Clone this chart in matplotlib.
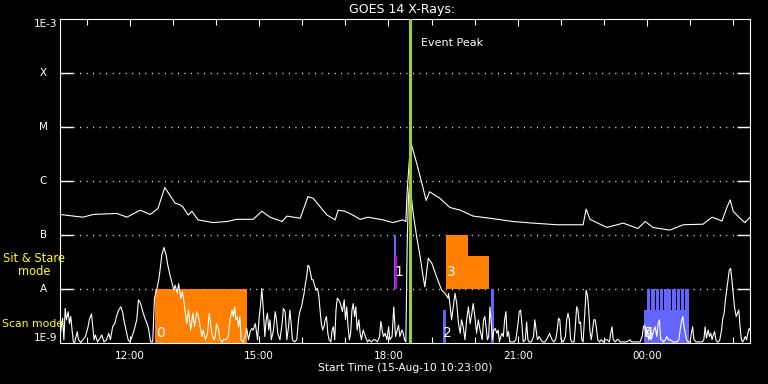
import numpy as np
import matplotlib.pyplot as plt
import matplotlib.transforms as mtransforms
from matplotlib.ticker import NullLocator

# time axis: hours after the start time 15-Aug-10 10:23:00
# flux values are log10(W/m^2)

# GOES 14 long channel (1-8 A)
long_t = [0.00, 0.53, 0.77, 1.32, 1.55, 1.86, 2.09, 2.27, 2.43, 2.67, 2.78, 2.85,
          2.97, 3.06, 3.20, 3.55, 3.87, 4.10, 4.48, 4.68, 4.87, 5.15, 5.26, 5.57,
          5.75, 5.87, 6.19, 6.38, 6.45, 6.61, 6.79, 6.96, 7.14, 7.49, 7.72, 7.95,
          8.02, 8.05, 8.13, 8.27, 8.39, 8.49, 8.57, 8.81, 9.04, 9.28, 9.58, 9.97,
          10.50, 10.97, 11.52, 12.13, 12.20, 12.29, 12.68, 13.06, 13.40, 13.57,
          13.75, 14.14, 14.45, 14.91, 15.12, 15.35, 15.47, 15.54, 15.61, 15.77,
          15.88, 16.00]
long_log = [-6.62, -6.67, -6.62, -6.60, -6.67, -6.54, -6.62, -6.51, -6.12, -6.41, -6.44, -6.48,
            -6.63, -6.56, -6.72, -6.77, -6.75, -6.71, -6.71, -6.56, -6.67, -6.75, -6.65, -6.69,
            -6.29, -6.32, -6.63, -6.72, -6.54, -6.56, -6.63, -6.71, -6.67, -6.72, -6.77, -6.72,
            -6.75, -6.20, -5.27, -5.67, -6.04, -6.36, -6.20, -6.32, -6.49, -6.54, -6.65, -6.69,
            -6.75, -6.78, -6.81, -6.81, -6.52, -6.71, -6.86, -6.78, -6.88, -6.75,
            -6.86, -6.91, -6.81, -6.80, -6.67, -6.74, -6.48, -6.35, -6.56, -6.69,
            -6.77, -6.67]

# GOES 14 short channel (0.5-4 A)
short_t = [0.00, 0.06, 0.09, 0.12, 0.15, 0.19, 0.22, 0.25, 0.28, 0.31, 0.34, 0.40, 0.43, 0.48,
           0.53, 0.59, 0.65, 0.68, 0.73, 0.76, 0.79, 0.82, 0.87, 0.93, 0.97, 1.02, 1.08, 1.13,
           1.17, 1.22, 1.27, 1.31, 1.36, 1.41, 1.45, 1.48, 1.53, 1.58, 1.62, 1.67, 1.72, 1.78,
           1.82, 1.87, 1.92, 1.98, 2.02, 2.06, 2.10, 2.15, 2.19, 2.24, 2.29, 2.32, 2.36, 2.41,
           2.46, 2.50, 2.55, 2.60, 2.64, 2.67, 2.72, 2.75, 2.80, 2.84, 2.89, 2.94, 2.98, 3.03,
           3.08, 3.12, 3.17, 3.21,
           3.25, 3.29, 3.32, 3.37, 3.42, 3.46, 3.49, 3.52, 3.57, 3.60, 3.63, 3.68, 3.71, 3.76,
           3.80, 3.85, 3.90, 3.94, 3.99, 4.02, 4.05, 4.08, 4.11, 4.14, 4.17, 4.20, 4.25, 4.30,
           4.33, 4.37, 4.41, 4.45, 4.48, 4.53, 4.58, 4.62, 4.65, 4.68, 4.71, 4.75, 4.78, 4.81,
           4.84, 4.87, 4.90, 4.95, 4.99, 5.02, 5.05, 5.10, 5.15, 5.18, 5.22, 5.26, 5.30, 5.33,
           5.36, 5.39, 5.44, 5.49, 5.53, 5.56, 5.60, 5.63, 5.66, 5.69, 5.72, 5.75, 5.78, 5.81,
           5.84, 5.87, 5.90, 5.94, 5.97, 6.00, 6.03, 6.06, 6.09, 6.12, 6.15, 6.18, 6.21, 6.24,
           6.28, 6.31, 6.34, 6.37, 6.40, 6.43, 6.46,
           6.49, 6.52, 6.55, 6.59, 6.62, 6.65, 6.68, 6.71, 6.74, 6.77, 6.80, 6.83, 6.86, 6.89,
           6.93, 6.96, 6.99, 7.03, 7.08, 7.13, 7.17, 7.22, 7.27, 7.31, 7.36, 7.41, 7.44, 7.47,
           7.50, 7.54, 7.58, 7.62, 7.65, 7.70, 7.74, 7.78, 7.81, 7.85, 7.88, 7.93, 7.96, 7.99,
           8.02, 8.05, 8.08, 8.10, 8.14, 8.19, 8.27, 8.35, 8.42, 8.46, 8.54, 8.62, 8.73, 8.85,
           8.93, 9.00, 9.01, 9.04, 9.08, 9.16, 9.20, 9.24, 9.28, 9.31, 9.35, 9.39, 9.43, 9.47,
           9.51, 9.55, 9.58, 9.62, 9.66, 9.70,
           9.74, 9.79, 9.82, 9.85, 9.88, 9.91, 9.94, 9.97, 10.00, 10.03, 10.06, 10.09, 10.13,
           10.16, 10.19, 10.22, 10.25, 10.28, 10.31, 10.34, 10.37, 10.40, 10.43, 10.48, 10.53,
           10.57, 10.62, 10.65, 10.68, 10.71, 10.74, 10.79, 10.82, 10.85, 10.88, 10.93, 10.98,
           11.01, 11.04, 11.07, 11.11, 11.15, 11.19, 11.24, 11.28, 11.32, 11.35, 11.38, 11.41,
           11.45, 11.49, 11.52, 11.56, 11.59, 11.62, 11.67, 11.72, 11.75, 11.78, 11.81, 11.84,
           11.87, 11.92, 11.95, 11.98, 12.01, 12.04, 12.07, 12.10, 12.13, 12.17, 12.20, 12.23,
           12.26, 12.29, 12.32, 12.35, 12.38, 12.41, 12.44, 12.47, 12.51, 12.55, 12.60, 12.64,
           12.69, 12.74, 12.77, 12.80, 12.83, 12.88, 12.91, 12.95,
           12.99, 13.06, 13.14, 13.22, 13.25, 13.30, 13.37, 13.45, 13.50, 13.53, 13.56, 13.59,
           13.62, 13.65, 13.68, 13.71, 13.74, 13.77, 13.80, 13.84, 13.87, 13.90, 13.93, 13.96,
           13.99, 14.04, 14.07, 14.11, 14.16, 14.21, 14.25, 14.30, 14.35, 14.38, 14.41, 14.44,
           14.47, 14.50, 14.53, 14.56, 14.61, 14.64, 14.67, 14.70, 14.75, 14.79, 14.84, 14.89,
           14.93, 14.96, 14.99, 15.03, 15.06, 15.09, 15.12, 15.15, 15.18, 15.21, 15.24, 15.27,
           15.30, 15.34, 15.37, 15.40, 15.43, 15.46, 15.49, 15.52, 15.55, 15.58, 15.61, 15.64,
           15.68, 15.71, 15.74, 15.77, 15.80, 15.83, 15.86, 15.89, 15.92, 15.95, 15.98, 16.00]
short_log = [-8.88, -8.54, -8.94, -8.36, -8.57, -8.42, -8.64, -8.51, -8.76, -8.98, -8.99, -8.79, -8.94, -8.99,
             -8.94, -8.88, -8.70, -8.57, -8.46, -8.70, -8.94, -8.85, -8.98, -8.91, -8.85, -8.98, -8.94, -8.82,
             -8.94, -8.70, -8.64, -8.51, -8.39, -8.33, -8.42, -8.57, -8.76, -8.94, -8.98, -8.88, -8.76, -8.57,
             -8.20, -8.27, -8.42, -8.57, -8.64, -8.76, -8.98, -8.98, -8.17, -8.02, -7.83, -7.65, -7.37, -7.23,
             -7.37, -7.56, -7.74, -7.90, -8.02, -7.93, -8.08, -7.90, -8.17, -8.05, -8.33, -8.64, -8.39, -8.76,
             -8.45, -8.70, -8.42, -8.51,
             -8.70, -8.88, -8.76, -8.94, -8.82, -8.45, -8.64, -8.82, -8.94, -8.88, -8.64, -8.76, -8.94, -8.98,
             -8.93, -8.94, -8.88, -8.57, -8.39, -8.51, -8.33, -8.57, -8.51, -8.70, -8.51, -8.94, -8.98, -8.85,
             -8.73, -8.94, -8.79, -8.73, -8.76, -8.64, -8.94, -8.51, -8.30, -7.99, -8.33, -8.88, -8.57, -8.45,
             -8.76, -8.57, -8.94, -8.76, -8.42, -8.57, -8.82, -8.94, -8.64, -8.36, -8.42, -8.94, -8.70, -8.39,
             -8.64, -8.94, -8.98, -8.94, -8.57, -8.42, -8.33, -8.20, -8.08, -7.90, -7.77, -7.56, -7.59, -7.71,
             -7.83, -7.83, -7.93, -8.02, -7.99, -8.11, -8.39, -8.64, -8.76, -8.70, -8.57, -8.51, -8.82, -8.94,
             -8.98, -8.76, -8.70, -8.94, -8.39, -8.17, -8.20,
             -8.24, -8.33, -8.42, -8.20, -8.57, -8.33, -8.70, -8.94, -8.82, -8.39, -8.27, -8.51, -8.33, -8.76,
             -8.57, -8.82, -8.94, -8.76, -8.88, -8.98, -8.94, -8.98, -8.94, -8.94, -8.98, -8.88, -8.60, -8.76,
             -8.88, -8.82, -8.94, -8.70, -8.94, -8.88, -8.33, -8.88, -8.79, -8.67, -8.88, -8.76, -8.82, -8.94,
             -8.98, -7.20, -6.30, -6.10, -6.25, -6.60, -7.03, -7.40, -7.77, -7.96, -7.43, -7.52, -7.77, -8.02,
             -8.08, -8.17, -8.08, -8.27, -8.57, -8.08, -8.27, -8.64, -8.82, -8.57, -8.70, -8.94, -8.57, -8.33,
             -8.64, -8.45, -8.27, -8.51, -8.82, -8.57,
             -8.76, -8.94, -8.57, -8.51, -8.70, -8.94, -8.88, -8.33, -8.64, -8.94, -8.76, -8.73, -8.82,
             -8.76, -8.98, -8.88, -8.82, -8.88, -8.57, -8.42, -8.88, -8.79, -8.98, -8.98, -8.98,
             -8.94, -8.64, -8.42, -8.39, -8.64, -8.98, -8.94, -8.61, -8.94, -8.98, -8.98, -8.88,
             -8.57, -8.76, -8.94, -8.88, -8.94, -8.98, -8.98, -8.94, -8.88, -8.82, -8.88, -8.94,
             -8.98, -8.94, -8.82, -8.54, -8.57, -8.94, -8.98, -8.88, -8.57, -8.45, -8.57, -8.94,
             -8.98, -8.98, -8.70, -8.33, -8.39, -8.64, -8.61, -8.94, -8.98, -8.45, -8.02, -8.11,
             -8.39, -8.79, -8.94, -8.76, -8.57, -8.57, -8.73, -8.94, -8.98, -8.94, -8.98, -8.94,
             -8.94, -8.98, -8.82, -8.70, -8.94, -8.98, -8.94, -8.94,
             -8.98, -8.98, -8.98, -8.94, -8.98, -8.98, -8.98, -8.98, -8.88, -8.70, -8.67, -8.88,
             -8.76, -8.94, -8.88, -8.94, -8.85, -8.76, -8.70, -8.88, -8.64, -8.57, -8.94, -8.94,
             -8.98, -8.94, -8.88, -8.94, -8.94, -8.98, -8.98, -8.98, -8.94, -8.76, -8.61, -8.51,
             -8.70, -8.82, -8.94, -8.98, -8.98, -8.82, -8.70, -8.94, -8.98, -8.98, -8.98, -8.98,
             -8.94, -8.70, -8.91, -8.76, -8.88, -8.82, -8.94, -8.85, -8.79, -8.94, -8.98, -8.98,
             -8.94, -8.76, -8.54, -8.45, -8.20, -8.02, -7.83, -7.65, -7.62, -7.83, -8.08, -8.33,
             -8.51, -8.45, -8.39, -8.70, -8.94, -8.98, -8.94, -8.88, -8.94, -8.82, -8.73, -8.76]

# observation blocks (orange: sit & stare / scan, purple: other instrument)
orange_t0 = [2.20, 8.95, 8.95]
orange_t1 = [4.33, 9.46, 9.95]
orange_lo = [-9.0, -8.0, -8.0]
orange_hi = [-8.0, -7.0, -7.39]

blue_t0 = [7.745, 8.88, 9.99, 13.54]
blue_t1 = [7.78, 8.95, 10.06, 14.58]
blue_lo = [-8.0, -9.0, -9.0, -9.0]
blue_hi = [-7.0, -8.39, -8.0, -8.39]

magenta_t0 = [7.77]
magenta_t1 = [7.81]
magenta_lo = [-8.0]
magenta_hi = [-7.39]

comb_t = [13.65, 13.75, 13.85, 13.95, 14.05, 14.14, 14.24, 14.34, 14.44, 14.54]
comb_lo = -8.39
comb_hi = -8.0

block_labels = ['0', '1', '2', '3', '4', '5']
block_label_t = [2.32, 7.86, 8.99, 9.07, 13.65, 13.65]
block_label_log = [-8.81, -7.69, -8.81, -7.69, -8.81, -8.81]

peak_t = 8.12

class_levels = [-3, -4, -5, -6, -7, -8, -9]
class_names = ['1E-3', 'X', 'M', 'C', 'B', 'A', '1E-9']

tick_hours = [1.617, 4.617, 7.617, 10.617, 13.617]
tick_names = ['12:00', '15:00', '18:00', '21:00', '00:00']

FONT = 'DejaVu Sans'
FS = 7.5
ORANGE = '#FF8000'
BLUE = '#6464FF'
MAGENTA = '#CC00CC'
GREEN = '#9ACD32'

fig = plt.figure(figsize=(7.68, 3.84), dpi=100, facecolor='black')
ax = fig.add_axes([60 / 768, 41 / 384, 690 / 768, 324 / 384])
ax.set_facecolor('black')
ax.set_yscale('log')
ax.set_xlim(0, 16)
ax.set_ylim(1e-9, 1e-3)


def draw_boxes(t0, t1, lo, hi, color):
    t0 = np.array(t0)
    t1 = np.array(t1)
    lo = 10.0 ** np.array(lo)
    hi = 10.0 ** np.array(hi)
    ax.bar(t0, hi - lo, width=t1 - t0, bottom=lo, align='edge',
           color=color, linewidth=0, zorder=2)


draw_boxes(orange_t0, orange_t1, orange_lo, orange_hi, ORANGE)
draw_boxes(blue_t0, blue_t1, blue_lo, blue_hi, BLUE)
draw_boxes(magenta_t0, magenta_t1, magenta_lo, magenta_hi, MAGENTA)
ax.bar(comb_t, 10 ** comb_hi - 10 ** comb_lo, width=0.076, bottom=10 ** comb_lo,
       color=BLUE, linewidth=0, zorder=2)

# dotted class levels
for lv in [-8, -7, -6, -5, -4]:
    ax.axhline(10.0 ** lv, color='white', lw=1, ls=(0, (0.7, 4.0)), zorder=1)

ax.plot(short_t, 10.0 ** np.array(short_log), color='white', lw=0.8, zorder=3)
ax.plot(long_t, 10.0 ** np.array(long_log), color='white', lw=0.8, zorder=3)

ax.axvline(peak_t, color=GREEN, lw=2.2, zorder=4)
ax.text(8.37, 10 ** -3.44, 'Event Peak', color='white', fontsize=8,
        family=FONT, va='center', ha='left')

for lab, t, lv in zip(block_labels, block_label_t, block_label_log):
    ax.text(t, 10.0 ** lv, lab, color='white', fontsize=10, family=FONT,
            ha='center', va='center', zorder=5)

# axes frame and ticks
for sp in ax.spines.values():
    sp.set_color('white')
    sp.set_linewidth(0.8)

ax.set_yticks([10.0 ** lv for lv in [-8, -7, -6, -5, -4]])
ax.yaxis.set_minor_locator(NullLocator())
ax.tick_params(axis='y', which='major', direction='in', length=9.4, width=1,
               color='white', left=True, right=True, labelleft=False)

ax.set_xticks(tick_hours, labels=tick_names)
ax.set_xticks(np.arange(0.617, 16, 1.0), minor=True)
ax.tick_params(axis='x', which='both', direction='in', top=True, bottom=True,
               color='white', width=0.8)
ax.tick_params(axis='x', which='major', length=5, pad=6, labelcolor='white',
               labelsize=FS)
ax.tick_params(axis='x', which='minor', length=4)
for lab in ax.get_xticklabels():
    lab.set_family(FONT)

trans = mtransforms.blended_transform_factory(fig.transFigure, ax.transData)
for name, lv in zip(class_names, class_levels):
    if lv == -3:
        ax.text(57 / 768, 10.0 ** lv, name, transform=trans, color='white', fontsize=FS,
                family=FONT, ha='right', va='top')
    elif lv == -9:
        ax.text(57 / 768, 10.0 ** lv, name, transform=trans, color='white', fontsize=FS,
                family=FONT, ha='right', va='bottom')
    else:
        ax.text(43.5 / 768, 10.0 ** lv, name, transform=trans, color='white', fontsize=FS,
                family=FONT, ha='center', va='center')

fig.text(34 / 768, 1 - 265 / 384, 'Sit & Stare\nmode', color='#FFFF00', fontsize=8.3,
         family=FONT, ha='center', va='center', linespacing=1.05)
fig.text(2 / 768, 1 - 324 / 384, 'Scan mode', color='#FFFF00', fontsize=7.8,
         family=FONT, ha='left', va='center')

fig.text(402 / 768, 1 - 9.5 / 384, 'GOES 14 X-Rays:', color='white', fontsize=9,
         family=FONT, ha='center', va='center')
fig.text(405 / 768, 1 - 368 / 384, 'Start Time (15-Aug-10 10:23:00)', color='white',
         fontsize=7.7, family=FONT, ha='center', va='center')

fig.savefig('out.png', dpi=100, facecolor='black')
